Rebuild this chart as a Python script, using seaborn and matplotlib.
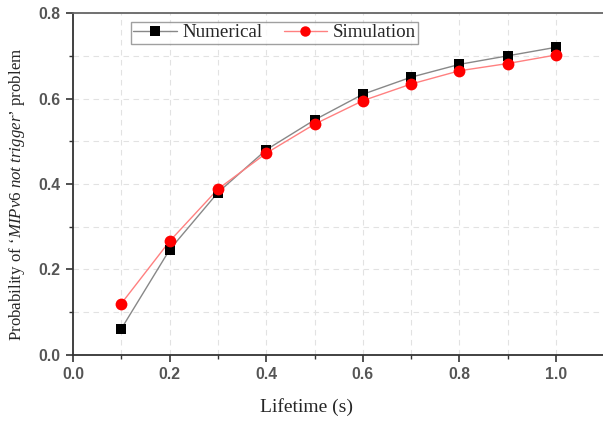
import matplotlib
matplotlib.use("Agg")
import matplotlib.pyplot as plt
import seaborn as sns
import pandas as pd
from matplotlib.ticker import MultipleLocator
from matplotlib.lines import Line2D

lifetime = [0.1, 0.2, 0.3, 0.4, 0.5, 0.6, 0.7, 0.8, 0.9, 1.0]
numerical = [0.061, 0.246, 0.380, 0.480, 0.550, 0.610, 0.650, 0.680, 0.700, 0.720]
simulation = [0.120, 0.266, 0.388, 0.472, 0.540, 0.595, 0.634, 0.665, 0.682, 0.702]
series_names = ["Numerical", "Simulation"]
xticks = [0.0, 0.2, 0.4, 0.6, 0.8, 1.0]
yticks = [0.0, 0.2, 0.4, 0.6, 0.8]

df = pd.DataFrame({
    "Lifetime": lifetime * 2,
    "Probability": numerical + simulation,
    "Series": [series_names[0]] * len(lifetime) + [series_names[1]] * len(lifetime),
})

sns.set_style("white")
plt.rcParams["mathtext.fontset"] = "custom"
plt.rcParams["mathtext.rm"] = "Liberation Serif"
plt.rcParams["mathtext.it"] = "Liberation Serif:italic"

fig = plt.figure(figsize=(6.03, 4.22), dpi=100)
ax = fig.add_axes([0.121, 0.159, 0.879, 0.810])

sns.lineplot(data=df, x="Lifetime", y="Probability", hue="Series", style="Series",
             markers={"Numerical": "s", "Simulation": "o"},
             dashes=False, palette={"Numerical": "#000000", "Simulation": "#ff0000"},
             markersize=8, linewidth=0, ax=ax, legend=False)
ax.lines[0].set_markersize(7.5)
ax.lines[1].set_markersize(8.5)
for ln in ax.lines[:2]:
    ln.set_markeredgewidth(0)
    ln.set_zorder(3)
# thin connecting lines in lighter colours
ax.plot(lifetime, numerical, color="#888888", lw=1.0, zorder=2)
ax.plot(lifetime, simulation, color="#ff8080", lw=1.0, zorder=2)

ax.set_xlim(0, 1.097)
ax.set_ylim(0, 0.8)
ax.set_xticks(xticks)
ax.set_yticks(yticks)
ax.xaxis.set_minor_locator(MultipleLocator(0.1))
ax.yaxis.set_minor_locator(MultipleLocator(0.1))
ax.grid(True, which="both", ls=(0, (5, 4)), color="#e2e2e2", lw=0.8)
ax.set_axisbelow(True)

tick_font = dict(family="Liberation Sans", weight="bold", size=11.3)
ax.set_xticklabels([f"{v:.1f}" for v in xticks], color="#555555", fontdict=tick_font)
ax.set_yticklabels([f"{v:.1f}" for v in yticks], color="#555555", fontdict=tick_font)
ax.tick_params(which="major", direction="out", length=5, width=1.2, color="#333333",
               bottom=True, left=True, pad=4)
ax.tick_params(which="minor", direction="out", length=3, width=1.0, color="#333333",
               bottom=True, left=True)

for s in ["left", "bottom"]:
    ax.spines[s].set_color("#333333")
    ax.spines[s].set_linewidth(1.3)
ax.spines["top"].set_color("#666666")
ax.spines["top"].set_linewidth(1.3)
ax.spines["right"].set_visible(False)

ax.set_xlabel("Lifetime (s)", family="Liberation Serif", size=14)
ax.xaxis.set_label_coords(0.44, -0.152)
ax.xaxis.label.set_va("center")
ax.set_ylabel("Probability of \u2018$\\mathit{MIPv6\\ not\\ trigger}$\u2019 problem",
              family="Liberation Serif", size=12.2)
ax.yaxis.set_label_coords(-0.105, 0.47)
ax.yaxis.label.set_va("center")

handles = [
    Line2D([], [], color="#888888", lw=1.0, marker="s", markersize=6.5, markerfacecolor="black", markeredgewidth=0),
    Line2D([], [], color="#ff8080", lw=1.0, marker="o", markersize=7.5, markerfacecolor="red", markeredgewidth=0),
]
leg = ax.legend(handles, series_names, ncol=2, loc="upper left", bbox_to_anchor=(0.109, 0.975),
                prop=dict(family="Liberation Serif", size=13.7), frameon=True, fancybox=False,
                edgecolor="#888888", handlelength=2.3, columnspacing=1.1, borderpad=0.12,
                handletextpad=0.3, borderaxespad=0)
leg.get_frame().set_linewidth(1.0)

fig.savefig("out.png", dpi=100)
